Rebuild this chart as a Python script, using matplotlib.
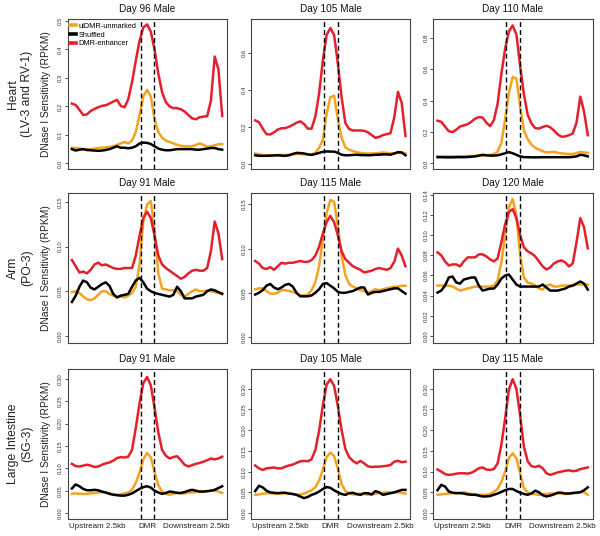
import matplotlib
matplotlib.use("Agg")
import matplotlib.pyplot as plt
from matplotlib.ticker import FormatStrFormatter
from matplotlib.lines import Line2D

plt.rcParams['font.family'] = ['Liberation Sans', 'DejaVu Sans']

# ---------------- data ----------------
bins = [0, 2.5, 5, 7.5, 10, 12.5, 15, 17.5, 20, 22.5,
        25, 27.5, 30, 32.5, 35, 37.5, 40, 42.5, 45, 47.5,
        50, 52.5, 55, 57.5, 60, 62.5, 65, 67.5, 70, 72.5,
        75, 77.5, 80, 82.5, 85, 87.5, 90, 92.5, 95, 97.5, 100]
dmr_bounds = [45.8, 54.8]
region_labels = ["Upstream 2.5kb", "DMR", "Downstream 2.5kb"]
region_pos = [16.8, 50.3, 83.0]
series_names = ["uiDMR-unmarked", "Shuffled", "DMR-enhancer"]
row_names = ["Heart\n(LV-3 and RV-1)", "Arm\n(PO-3)", "Large Intestine\n(SG-3)"]
titles = [["Day 96 Male", "Day 105 Male", "Day 110 Male"],
          ["Day 91 Male", "Day 115 Male", "Day 120 Male"],
          ["Day 91 Male", "Day 105 Male", "Day 115 Male"]]

# Heart, Day 96
heart96_enh = [.210, .205, .188, .170, .172, .184, .191, .197, .202, .204,
               .210, .217, .223, .202, .197, .225, .285, .360, .430, .477,
               .488, .463, .400, .315, .250, .215, .200, .194, .194, .190,
               .182, .170, .158, .155, .162, .164, .166, .220, .375, .330, .167]
heart96_unm = [.055, .054, .052, .050, .050, .050, .052, .054, .055, .056,
               .058, .060, .065, .070, .075, .070, .080, .110, .170, .235,
               .258, .235, .155, .110, .090, .080, .075, .070, .065, .062,
               .060, .060, .060, .065, .070, .065, .058, .060, .064, .067, .068]
heart96_shuf = [.050, .045, .048, .050, .047, .046, .045, .044, .045, .047,
                .050, .055, .060, .055, .055, .053, .055, .060, .070, .073,
                .072, .068, .060, .052, .048, .046, .046, .048, .050, .050,
                .050, .050, .050, .048, .048, .050, .052, .054, .054, .050, .048]
# Heart, Day 105
heart105_enh = [.235, .225, .190, .160, .158, .170, .185, .192, .193, .200,
                .210, .222, .230, .215, .190, .190, .255, .380, .560, .700,
                .738, .700, .545, .360, .220, .188, .180, .180, .180, .178,
                .170, .155, .140, .145, .155, .160, .165, .250, .390, .330, .150]
heart105_unm = [.055, .050, .046, .045, .045, .045, .046, .047, .047, .048,
                .050, .052, .052, .050, .048, .050, .058, .085, .130, .270,
                .360, .370, .240, .140, .088, .075, .068, .062, .058, .055,
                .055, .055, .055, .058, .060, .058, .055, .055, .058, .060, .055]
heart105_shuf = [.045, .042, .042, .042, .043, .044, .045, .043, .042, .045,
                 .052, .058, .057, .055, .050, .047, .052, .058, .064, .066,
                 .065, .065, .058, .048, .045, .045, .047, .048, .046, .046,
                 .045, .046, .048, .048, .050, .050, .048, .055, .062, .060, .045]
# Heart, Day 110
heart110_enh = [.272, .265, .235, .205, .200, .215, .235, .242, .250, .265,
                .285, .295, .292, .260, .238, .275, .380, .570, .730, .840,
                .878, .820, .620, .440, .310, .255, .225, .222, .232, .240,
                .230, .210, .185, .170, .172, .180, .190, .260, .425, .330, .180]
heart110_unm = [.045, .045, .045, .045, .045, .045, .046, .046, .047, .048,
                .048, .050, .050, .052, .055, .060, .075, .130, .280, .450,
                .550, .540, .360, .210, .155, .120, .100, .088, .078, .070,
                .072, .074, .068, .064, .062, .060, .060, .066, .073, .070, .067]
heart110_shuf = [.040, .040, .039, .039, .039, .040, .040, .040, .041, .043,
                 .045, .050, .055, .052, .050, .050, .052, .058, .065, .072,
                 .065, .055, .045, .040, .040, .039, .039, .039, .040, .040,
                 .040, .040, .040, .040, .040, .040, .042, .045, .055, .052, .045]
# Arm, Day 91
arm91_enh = [.085, .078, .071, .072, .070, .074, .080, .082, .079, .080,
             .078, .076, .075, .075, .076, .076, .076, .090, .112, .132,
             .139, .132, .112, .090, .080, .076, .073, .070, .067, .064,
             .066, .070, .073, .074, .073, .073, .076, .095, .128, .115, .086]
arm91_unm = [.049, .050, .048, .044, .041, .040, .042, .046, .050, .050,
             .047, .045, .044, .044, .043, .045, .048, .055, .080, .128,
             .147, .151, .118, .070, .053, .052, .051, .051, .050, .046,
             .044, .047, .050, .052, .050, .050, .051, .050, .049, .048, .048]
arm91_shuf = [.038, .045, .055, .062, .060, .054, .052, .055, .058, .060,
              .056, .047, .043, .045, .046, .047, .055, .062, .065, .060,
              .053, .050, .048, .047, .046, .045, .044, .046, .055, .050,
              .042, .042, .042, .044, .045, .046, .050, .052, .051, .049, .047]
# Arm, Day 115
arm115_enh = [.086, .083, .078, .077, .079, .076, .080, .084, .083, .084,
              .084, .085, .086, .085, .085, .087, .092, .102, .117, .130,
              .137, .130, .115, .097, .088, .084, .080, .078, .076, .073,
              .074, .075, .077, .078, .077, .076, .078, .085, .100, .092, .080]
arm115_unm = [.054, .055, .055, .052, .049, .049, .050, .053, .053, .052,
              .051, .049, .047, .047, .048, .053, .062, .080, .110, .140,
              .155, .153, .125, .092, .070, .060, .057, .055, .053, .052,
              .050, .052, .054, .053, .054, .055, .056, .057, .057, .058, .058]
arm115_shuf = [.048, .050, .053, .058, .060, .056, .054, .056, .059, .060,
               .057, .050, .046, .046, .046, .047, .050, .054, .060, .061,
               .058, .055, .051, .050, .050, .051, .052, .054, .056, .056,
               .048, .050, .051, .051, .052, .053, .054, .055, .055, .052, .049]
# Arm, Day 120
arm120_enh = [.083, .080, .074, .070, .071, .071, .069, .074, .078, .078,
              .078, .081, .081, .079, .076, .074, .077, .093, .111, .123,
              .126, .117, .100, .088, .084, .082, .079, .074, .069, .066,
              .068, .072, .074, .075, .073, .069, .072, .093, .117, .108, .087]
arm120_unm = [.050, .050, .050, .050, .049, .047, .045, .046, .047, .048,
              .049, .049, .049, .049, .049, .050, .055, .073, .100, .128,
              .136, .120, .080, .058, .053, .052, .050, .047, .046, .050,
              .051, .049, .049, .050, .050, .050, .050, .051, .051, .051, .051]
arm120_shuf = [.043, .045, .050, .058, .059, .053, .052, .056, .057, .058,
               .058, .050, .045, .046, .047, .047, .051, .057, .060, .061,
               .056, .051, .049, .049, .049, .049, .049, .049, .051, .048,
               .045, .045, .045, .046, .047, .049, .050, .052, .054, .052, .046]
# Large intestine, Day 91
li91_enh = [.110, .105, .104, .106, .108, .106, .103, .104, .108, .111,
            .113, .117, .123, .125, .124, .126, .141, .190, .245, .290,
            .304, .285, .235, .180, .141, .128, .122, .125, .127, .118,
            .108, .104, .107, .110, .112, .115, .118, .122, .120, .122, .126]
li91_unm = [.043, .044, .043, .043, .043, .044, .045, .046, .047, .046,
            .044, .042, .041, .042, .044, .046, .052, .068, .090, .120,
            .134, .125, .092, .062, .048, .043, .041, .043, .046, .044,
            .044, .046, .046, .047, .048, .049, .049, .050, .050, .048, .045]
li91_shuf = [.055, .064, .060, .054, .051, .051, .052, .051, .048, .046,
             .043, .041, .040, .039, .039, .041, .044, .049, .054, .058,
             .060, .057, .050, .046, .043, .045, .048, .047, .045, .045,
             .047, .050, .052, .050, .048, .048, .049, .050, .052, .056, .060]
# Large intestine, Day 105
li105_enh = [.115, .108, .104, .108, .109, .110, .108, .108, .112, .115,
             .117, .121, .125, .126, .125, .130, .152, .198, .260, .310,
             .323, .307, .258, .200, .155, .135, .126, .120, .126, .120,
             .113, .111, .112, .112, .113, .114, .116, .124, .126, .123, .124]
li105_unm = [.044, .045, .047, .048, .048, .047, .047, .047, .048, .048,
             .046, .044, .045, .047, .051, .055, .062, .078, .105, .135,
             .146, .138, .107, .070, .053, .047, .045, .045, .047, .046,
             .044, .045, .047, .048, .049, .050, .050, .050, .050, .049, .047]
li105_shuf = [.053, .066, .062, .054, .050, .049, .048, .049, .049, .047,
              .046, .044, .040, .036, .039, .044, .047, .052, .058, .063,
              .061, .055, .050, .046, .044, .048, .049, .046, .044, .048,
              .048, .045, .053, .050, .044, .046, .048, .050, .053, .056, .056]
# Large intestine, Day 115
li115_enh = [.105, .100, .094, .092, .093, .095, .096, .096, .095, .097,
             .102, .108, .110, .105, .104, .106, .120, .165, .228, .298,
             .323, .300, .235, .160, .125, .113, .111, .114, .108, .096,
             .092, .095, .098, .100, .102, .103, .101, .102, .106, .108, .110]
li115_unm = [.044, .045, .046, .047, .048, .048, .049, .050, .048, .046,
             .045, .044, .044, .044, .046, .051, .058, .075, .100, .133,
             .144, .132, .096, .060, .050, .047, .045, .044, .045, .046,
             .047, .047, .048, .047, .046, .047, .049, .050, .051, .050, .044]
li115_shuf = [.055, .068, .064, .052, .049, .048, .048, .047, .045, .044,
              .044, .042, .040, .040, .041, .044, .047, .051, .055, .058,
              .058, .053, .049, .046, .044, .047, .054, .050, .043, .040,
              .042, .045, .049, .049, .047, .047, .048, .049, .050, .055, .062]

panel_series = [
    [(heart96_unm, heart96_shuf, heart96_enh), (heart105_unm, heart105_shuf, heart105_enh),
     (heart110_unm, heart110_shuf, heart110_enh)],
    [(arm91_unm, arm91_shuf, arm91_enh), (arm115_unm, arm115_shuf, arm115_enh),
     (arm120_unm, arm120_shuf, arm120_enh)],
    [(li91_unm, li91_shuf, li91_enh), (li105_unm, li105_shuf, li105_enh),
     (li115_unm, li115_shuf, li115_enh)],
]
ylims = [[(-0.018, 0.507), (-0.027, 0.787), (-0.032, 0.919)],
         [(-0.0074, 0.160), (-0.0063, 0.163), (-0.0066, 0.142)],
         [(-0.0127, 0.321), (-0.0138, 0.347), (-0.014, 0.347)]]
yticks = [[[0, .1, .2, .3, .4, .5], [0, .2, .4, .6], [0, .2, .4, .6, .8]],
          [[0, .05, .10, .15], [0, .05, .10, .15], [0, .02, .04, .06, .08, .10, .12, .14]],
          [[0, .05, .10, .15, .20, .25, .30]] * 3]
yfmt = [["%.1f"] * 3, ["%.2f"] * 3, ["%.2f"] * 3]

# ---------------- style / layout ----------------
ORANGE = "#F4A320"
RED = "#E3202B"
BLACK = "#000000"
colors = [ORANGE, BLACK, RED]

W, H = 600.0, 536.0
fig = plt.figure(figsize=(6.0, 5.36), dpi=100)
col_left = [67.7, 251.0, 433.3]
row_top = [19.0, 193.0, 369.3]
ax_w, ax_h = 159.3, 149.5

for r in range(3):
    for c in range(3):
        ax = fig.add_axes([col_left[c] / W, 1 - (row_top[r] + ax_h) / H, ax_w / W, ax_h / H])
        for s, col in zip(panel_series[r][c], colors):
            ax.plot(bins, s, color=col, lw=1.8, solid_joinstyle='round')
        for xb in dmr_bounds:
            ax.axvline(xb, color='black', lw=1.0, ls=(0, (3.5, 2.2)))
        ax.set_xlim(-2.8, 103.2)
        ax.set_ylim(*ylims[r][c])
        ax.set_yticks(yticks[r][c])
        ax.yaxis.set_major_formatter(FormatStrFormatter(yfmt[r][c]))
        ax.tick_params(axis='y', labelsize=4.3, length=2.2, width=0.6, pad=1.2,
                       labelrotation=90, colors='#333333')
        for lbl in ax.get_yticklabels():
            lbl.set_va('center')
        if r == 2:
            ax.set_xticks(region_pos)
            ax.set_xticklabels(region_labels)
            ax.tick_params(axis='x', length=0, labelsize=5.8, pad=3, colors='#222222')
        else:
            ax.set_xticks([])
        for sp in ax.spines.values():
            sp.set_color('#444444')
            sp.set_linewidth(0.8)
        ax.set_title(titles[r][c], fontsize=7.2, pad=5, color='#111111')
        if r == 0 and c == 0:
            handles = [Line2D([], [], color=col, lw=2.6) for col in colors]
            ax.legend(handles, series_names, loc='upper left', bbox_to_anchor=(0.015, 0.975),
                      frameon=False, fontsize=5.3, handlelength=0.8, handletextpad=0.35,
                      labelspacing=0.2, borderpad=0, borderaxespad=0)

for r in range(3):
    yc = 1 - (row_top[r] + ax_h / 2) / H
    fig.text(20 / W, yc, row_names[r], rotation=90, ha='center', va='center',
             fontsize=8.7, linespacing=1.3, multialignment='center', color='#222222')
    fig.text(46 / W, yc, "DNase I Sensitivity (RPKM)", rotation=90, ha='center',
             va='center', fontsize=7.4, color='#222222')

fig.savefig("out.png", dpi=100)
